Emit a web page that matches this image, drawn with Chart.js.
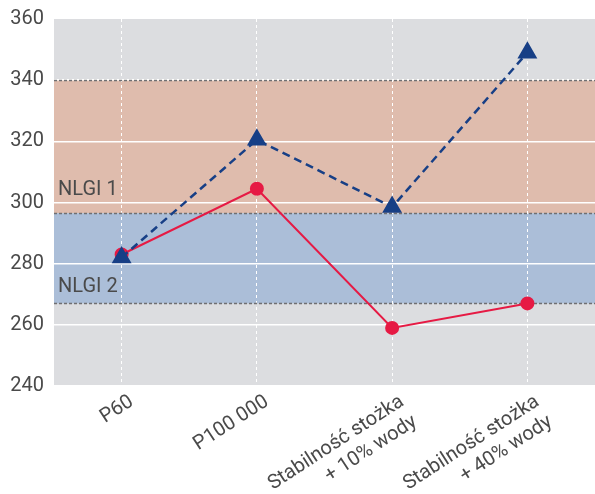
<!DOCTYPE html>
<html>
<head>
<meta charset="utf-8">
<script src="https://cdn.jsdelivr.net/npm/chart.js@4/dist/chart.umd.min.js"></script>
<style>
  html, body { margin: 0; padding: 0; background: #fff; overflow: hidden; }
  canvas { display: block; }
</style>
</head>
<body>
<canvas id="nlgiChart" width="595" height="494"></canvas>
<script>
// categories (x axis)
const categories = [
    'P60',
    'P100 000',
    ['Stabilność stożka', '+ 10% wody'],
    ['Stabilność stożka', '+ 40% wody']
];

// series values
const triangleSeries = [282, 320.5, 298.5, 349];
const circleSeries = [283, 304.5, 259, 267];

// y ticks
const yMin = 240;
const yMax = 360;
const yStep = 20;

// NLGI bands
const bandNames = ['NLGI 1', 'NLGI 2'];
const bandTop = [340, 296.5];
const bandBottom = [296.5, 267];
const bandColors = ['#dfbcad', '#abbed8'];

// background + bands drawn behind the grid, dotted edges + names above it
const bandsPlugin = {
    id: 'nlgiBands',
    beforeDraw(chart) {
        const { ctx, chartArea: a, scales: { y } } = chart;
        ctx.save();
        ctx.fillStyle = '#dcdde0';
        ctx.fillRect(a.left, a.top, a.right - a.left, a.bottom - a.top);
        bandNames.forEach((n, i) => {
            const t = y.getPixelForValue(bandTop[i]);
            const b = y.getPixelForValue(bandBottom[i]);
            ctx.fillStyle = bandColors[i];
            ctx.fillRect(a.left, t, a.right - a.left, b - t);
        });
        ctx.restore();
    },
    beforeDatasetsDraw(chart) {
        const { ctx, chartArea: a, scales: { y } } = chart;
        ctx.save();
        ctx.strokeStyle = '#6f6f72';
        ctx.lineWidth = 1.5;
        ctx.setLineDash([3, 2]);
        const edges = [...new Set([...bandTop, ...bandBottom])];
        edges.forEach((v) => {
            const py = Math.round(y.getPixelForValue(v)) + 0.5;
            ctx.beginPath();
            ctx.moveTo(a.left, py);
            ctx.lineTo(a.right, py);
            ctx.stroke();
        });
        ctx.setLineDash([]);
        ctx.fillStyle = '#4a4a4a';
        ctx.font = '20px Roboto';
        ctx.textAlign = 'left';
        ctx.textBaseline = 'middle';
        const lift = [23, 16];
        bandNames.forEach((n, i) => {
            ctx.fillText(n, a.left + 4, y.getPixelForValue(bandBottom[i]) - lift[i]);
        });
        ctx.restore();
    }
};

const ctx = document.getElementById('nlgiChart').getContext('2d');
new Chart(ctx, {
    type: 'line',
    data: {
        labels: categories,
        datasets: [
            {
                data: triangleSeries,
                borderColor: '#173f86',
                backgroundColor: '#173f86',
                borderWidth: 2.5,
                borderDash: [8, 5],
                pointStyle: 'triangle',
                pointRadius: 9,
                pointHoverRadius: 9,
                tension: 0
            },
            {
                data: circleSeries,
                borderColor: '#e61a44',
                backgroundColor: '#e61a44',
                borderWidth: 2,
                pointStyle: 'circle',
                pointRadius: 6,
                pointHoverRadius: 6,
                tension: 0
            }
        ]
    },
    options: {
        responsive: false,
        animation: false,
        layout: { autoPadding: false, padding: { top: 19, right: 0, left: 0, bottom: 0 } },
        plugins: {
            legend: { display: false },
            tooltip: { enabled: false }
        },
        scales: {
            x: {
                offset: true,
                border: { display: false, dash: [3, 3] },
                grid: {
                    offset: false,
                    color: '#ffffff',
                    lineWidth: 1,
                    drawTicks: false
                },
                ticks: {
                    color: '#4a4a4a',
                    font: { family: 'Roboto', size: 20 },
                    maxRotation: 33,
                    minRotation: 33,
                    padding: 4,
                    labelOffset: 10,
                    autoSkip: false
                },
                afterFit(scale) {
                    scale.height = 108;
                    scale.paddingLeft = 0;
                    scale.paddingRight = 0;
                }
            },
            y: {
                min: yMin,
                max: yMax,
                border: { display: false },
                grid: {
                    color: (c) => (c.tick && c.tick.value === yMax ? 'rgba(0,0,0,0)' : '#ffffff'),
                    lineWidth: 1.5,
                    drawTicks: false
                },
                ticks: {
                    stepSize: yStep,
                    color: '#4a4a4a',
                    font: { family: 'Roboto', size: 20 },
                    padding: 10
                },
                afterFit(scale) {
                    scale.width = 54;
                    scale.paddingTop = 0;
                    scale.paddingBottom = 0;
                }
            }
        }
    },
    plugins: [bandsPlugin]
});
</script>
</body>
</html>
